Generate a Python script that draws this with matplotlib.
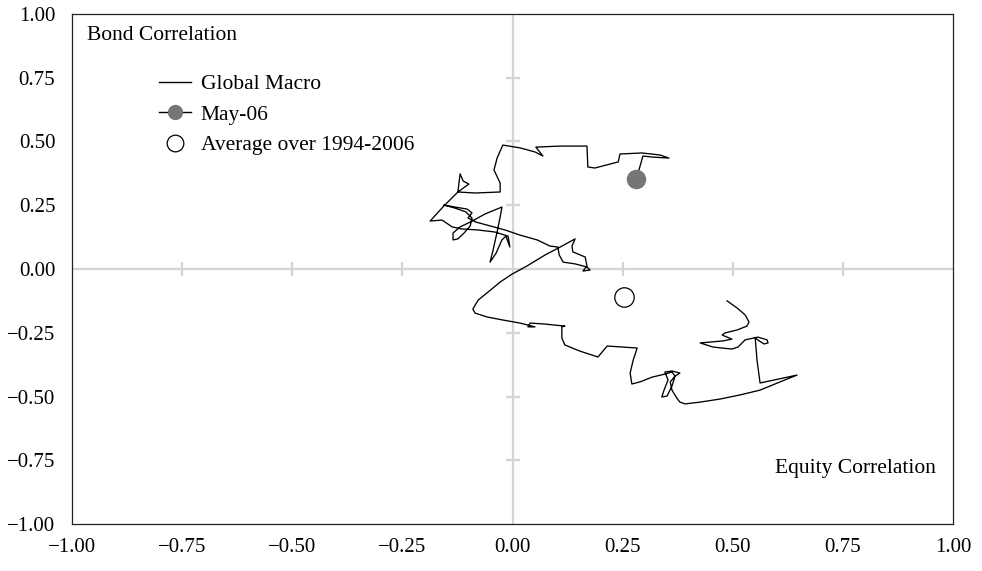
import matplotlib
matplotlib.use("Agg")
import matplotlib.pyplot as plt
from matplotlib.lines import Line2D
import numpy as np

# Global Macro correlation path (equity corr, bond corr), start -> May-06
path_x = [0.487, 0.510, 0.528, 0.537, 0.532, 0.510, 0.482, 0.476, 0.498, 0.478, 0.453, 0.426, 0.455, 0.498, 0.512, 0.521,
          0.528, 0.546, 0.557, 0.578, 0.580, 0.571, 0.560, 0.551, 0.555, 0.562, 0.646, 0.607, 0.562, 0.516, 0.471, 0.426,
          0.392, 0.380, 0.373, 0.362, 0.358, 0.369, 0.380, 0.362, 0.346, 0.353, 0.344, 0.339, 0.351, 0.362, 0.369, 0.362,
          0.346, 0.317, 0.289, 0.271, 0.267, 0.274, 0.283, 0.249, 0.215, 0.194, 0.153, 0.119, 0.112, 0.112, 0.119, 0.074,
          0.040, 0.035, 0.051, 0.017, -0.022, -0.058, -0.085, -0.090, -0.078, -0.058, -0.028, -0.001, 0.033, 0.074, 0.108,
          0.142, 0.135, 0.137, 0.165, 0.169, 0.160, 0.176, 0.169, 0.142, 0.115, 0.106, 0.103, 0.085, 0.056, 0.017, -0.017,
          -0.051, -0.083, -0.101, -0.092, -0.103, -0.131, -0.156, -0.131, -0.106, -0.092, -0.096, -0.110, -0.124, -0.135,
          -0.135, -0.119, -0.096, -0.062, -0.024, -0.028, -0.035, -0.044, -0.051, -0.037, -0.024, -0.015, -0.006, -0.010,
          -0.040, -0.078, -0.115, -0.137, -0.160, -0.187, -0.158, -0.124, -0.119, -0.112, -0.099, -0.124, -0.085, -0.028,
          -0.028, -0.042, -0.035, -0.022, 0.017, 0.051, 0.069, 0.053, 0.108, 0.169, 0.171, 0.187, 0.240, 0.244, 0.294,
          0.335, 0.355, 0.317, 0.296, 0.287, 0.280]
path_y = [-0.125, -0.153, -0.180, -0.208, -0.224, -0.239, -0.251, -0.259, -0.275, -0.282, -0.286, -0.290, -0.306, -0.314,
          -0.306, -0.290, -0.278, -0.271, -0.267, -0.278, -0.290, -0.294, -0.282, -0.271, -0.357, -0.447, -0.416, -0.443,
          -0.475, -0.494, -0.510, -0.522, -0.529, -0.522, -0.506, -0.475, -0.443, -0.420, -0.408, -0.400, -0.404, -0.435,
          -0.475, -0.502, -0.498, -0.459, -0.420, -0.404, -0.412, -0.424, -0.443, -0.451, -0.408, -0.357, -0.310, -0.306,
          -0.302, -0.345, -0.322, -0.298, -0.271, -0.227, -0.224, -0.216, -0.212, -0.227, -0.227, -0.212, -0.200, -0.188,
          -0.173, -0.157, -0.122, -0.094, -0.051, -0.020, 0.012, 0.055, 0.086, 0.118, 0.090, 0.067, 0.047, 0.012, -0.008,
          -0.004, 0.008, 0.020, 0.027, 0.055, 0.086, 0.090, 0.114, 0.133, 0.153, 0.169, 0.184, 0.200, 0.220, 0.235, 0.243,
          0.251, 0.239, 0.224, 0.200, 0.169, 0.141, 0.118, 0.114, 0.141, 0.165, 0.184, 0.216, 0.243, 0.204, 0.145, 0.075,
          0.027, 0.063, 0.114, 0.129, 0.086, 0.129, 0.145, 0.153, 0.157, 0.165, 0.192, 0.188, 0.243, 0.302, 0.373, 0.345,
          0.333, 0.302, 0.298, 0.302, 0.337, 0.388, 0.435, 0.486, 0.475, 0.459, 0.443, 0.478, 0.482, 0.482, 0.400, 0.396,
          0.420, 0.451, 0.455, 0.447, 0.435, 0.439, 0.443, 0.388, 0.353]
may06 = (0.280, 0.353)
average = (0.253, -0.110)
ticks = [-1.0, -0.75, -0.5, -0.25, 0.0, 0.25, 0.5, 0.75, 1.0]
labels = ["Global Macro", "May-06", "Average over 1994-2006"]

plt.rcParams["font.family"] = ["Liberation Serif", "DejaVu Serif"]
plt.rcParams["font.size"] = 15
big = 15.5
fig = plt.figure(figsize=(9.82, 5.71), dpi=100)
ax = fig.add_axes([0.0733, 0.0823, 0.8972, 0.8932])
grey = "#d4d4d4"
ax.axhline(0, color=grey, lw=1.6, zorder=1); ax.axvline(0, color=grey, lw=1.6, zorder=1)
inner = [t for t in ticks if t not in (-1.0, 0.0, 1.0)]
ax.plot(inner, np.zeros(len(inner)), ls="none", marker="|", ms=10, mew=1.6, color=grey, zorder=1)
ax.plot(np.zeros(len(inner)), inner, ls="none", marker="_", ms=10, mew=1.6, color=grey, zorder=1)
ax.plot(path_x, path_y, color="black", lw=0.95, zorder=3)
ax.plot(*may06, marker="o", ms=13, color="#767676", zorder=4)
ax.plot(*average, marker="o", ms=14, mfc="white", mec="black", mew=0.9, zorder=4)
ax.set_xlim(-1, 1); ax.set_ylim(-1, 1)
fmt = lambda t: f"{t:.2f}".replace("-", "\u2212")
ax.set_xticks(ticks, [fmt(t) for t in ticks])
ax.set_yticks(ticks, [fmt(t) for t in ticks])
ax.tick_params(axis="both", length=0)
ax.tick_params(axis="y", pad=12); ax.tick_params(axis="x", pad=10)
for lab in ax.get_yticklabels(): lab.set_va("center_baseline")
for s in ax.spines.values(): s.set_linewidth(0.9); s.set_color("#222222")
ax.text(0.017, 0.957, "Bond Correlation", transform=ax.transAxes, ha="left", va="center", fontsize=big)
ax.text(0.98, 0.108, "Equity Correlation", transform=ax.transAxes, ha="right", va="center", fontsize=big)
handles = [Line2D([], [], color="black", lw=1.0),
           Line2D([], [], color="black", lw=1.0, marker="o", ms=10, mfc="#767676", mec="#767676"),
           Line2D([], [], ls="none", marker="o", ms=12, mfc="white", mec="black", mew=0.9)]
ax.legend(handles, labels, loc="upper left", bbox_to_anchor=(0.099, 0.882), fontsize=big,
          frameon=False, borderpad=0, borderaxespad=0, handlelength=1.5, handletextpad=0.42, labelspacing=0.48)
fig.savefig("out.png", dpi=100)
